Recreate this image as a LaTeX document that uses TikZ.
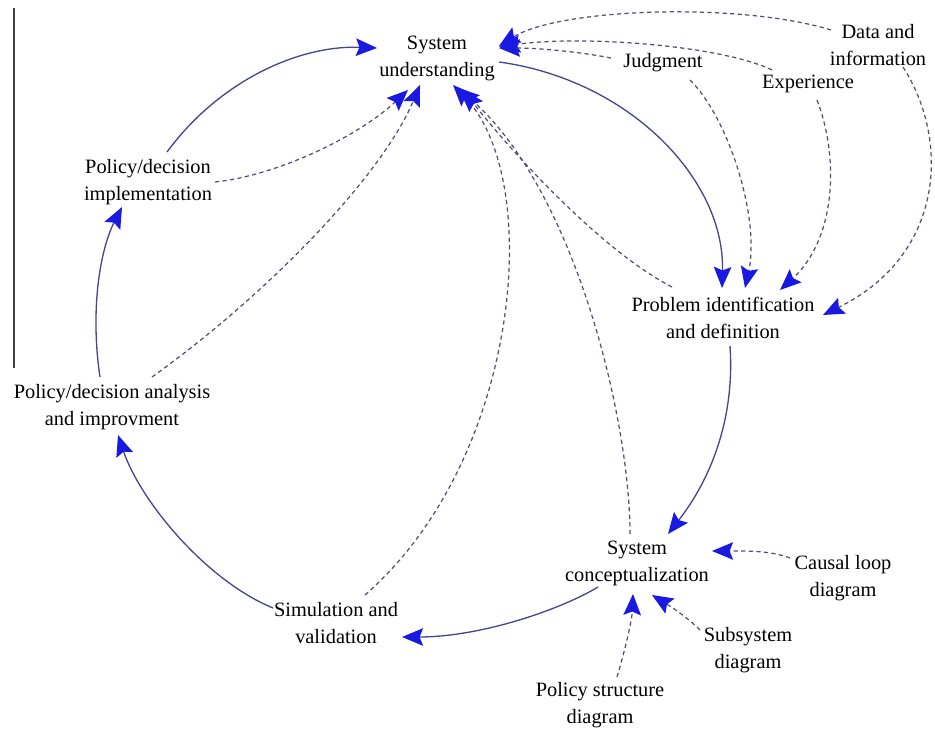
\documentclass[tikz,border=0pt]{standalone}
\usepackage{fontspec}
\setmainfont{Liberation Serif}
\usetikzlibrary{arrows.meta}
\definecolor{arrowblue}{RGB}{25,25,225}
\definecolor{linkcol}{RGB}{70,70,140}
\definecolor{infcol}{RGB}{80,80,115}
\newcommand{\lblfont}{\fontsize{11.6}{15.4}\selectfont}
\tikzset{
  lbl/.style={align=center,font=\lblfont,inner sep=0pt},
  mainlink/.style={draw=linkcol,line width=0.75pt,-{Stealth[length=12pt,width=10pt,inset=2pt,color=arrowblue]}},
  inflink/.style={draw=infcol,line width=0.7pt,dash pattern=on 2.4pt off 1.9pt,-{Stealth[length=12pt,width=10pt,inset=2pt,color=arrowblue]}}
}

\begin{document}
\begin{tikzpicture}[x=0.02cm,y=-0.02cm]
\useasboundingbox (0,0) rectangle (935,732);
\draw[line width=0.8pt,black!75] (14,8)--(14,368);
% nodes
\node[lbl] (su) at (437,58) {System\\understanding};
\node[lbl] (dinfo) at (878,45) {Data and\\information};
\node[lbl] (judg) at (663,63) {Judgment};
\node[lbl] (exper) at (808,84) {Experience};
\node[lbl] (polimp) at (148,182) {Policy/decision\\implementation};
\node[lbl] (probid) at (723,318) {Problem identification\\and definition};
\node[lbl] (polan) at (112,407) {Policy/decision analysis\\and improvment};
\node[lbl] (syscon) at (637,563) {System\\conceptualization};
\node[lbl] (causal) at (843,578) {Causal loop\\diagram};
\node[lbl] (simval) at (336,623) {Simulation and\\validation};
\node[lbl] (subsys) at (748,650) {Subsystem\\diagram};
\node[lbl] (polstr) at (600,705) {Policy structure\\diagram};
% main loop
\draw[mainlink] ([shift={(62,4)}]su.center) .. controls (630,80) and (725,180) .. ([shift={(-1,-30)}]probid.center);
\draw[mainlink] ([shift={(7,28)}]probid.center) .. controls (735,420) and (710,480) .. ([shift={(31,-29)}]syscon.center);
\draw[mainlink] ([shift={(-39,24)}]syscon.center) .. controls (560,610) and (480,637) .. ([shift={(66,14)}]simval.center);
\draw[mainlink] ([shift={(-63,-15)}]simval.center) .. controls (205,580) and (140,500) .. ([shift={(6,28)}]polan.center);
\draw[mainlink] ([shift={(-12,-30)}]polan.center) .. controls (90,310) and (100,250) .. ([shift={(-26,25)}]polimp.center);
\draw[mainlink] ([shift={(19,-30)}]polimp.center) .. controls (220,80) and (300,45) .. ([shift={(-60,-10)}]su.center);
% inputs to system understanding
\draw[inflink] ([shift={(-47,-15)}]dinfo.center) .. controls (740,2) and (560,8) .. ([shift={(62,-12)}]su.center);
\draw[inflink] ([shift={(-36,-14)}]exper.center) .. controls (720,45) and (580,35) .. ([shift={(62,-11)}]su.center);
\draw[inflink] ([shift={(-52,-5)}]judg.center) .. controls (580,52) and (540,48) .. ([shift={(62,-10)}]su.center);
\draw[inflink] ([shift={(67,0)}]polimp.center) .. controls (280,175) and (360,135) .. ([shift={(-29,32)}]su.center);
\draw[inflink] ([shift={(40,-30)}]polan.center) .. controls (260,300) and (380,180) .. ([shift={(-17,27)}]su.center);
\draw[inflink] ([shift={(29,-28)}]simval.center) .. controls (520,460) and (545,180) .. ([shift={(16,27)}]su.center);
\draw[inflink] ([shift={(-7,-29)}]syscon.center) .. controls (630,420) and (575,190) .. ([shift={(21,30)}]su.center);
\draw[inflink] ([shift={(-51,-31)}]probid.center) .. controls (600,250) and (510,150) .. ([shift={(26,32)}]su.center);
% inputs to problem identification
\draw[inflink] ([shift={(27,17)}]judg.center) .. controls (730,120) and (760,220) .. ([shift={(22,-30)}]probid.center);
\draw[inflink] ([shift={(9,16)}]exper.center) .. controls (840,160) and (835,240) .. ([shift={(57,-28)}]probid.center);
\draw[inflink] ([shift={(25,22)}]dinfo.center) .. controls (950,140) and (945,255) .. ([shift={(100,-3)}]probid.center);
% inputs to system conceptualization
\draw[inflink] ([shift={(-53,-20)}]causal.center) .. controls (770,550) and (740,551) .. ([shift={(75,-12)}]syscon.center);
\draw[inflink] ([shift={(-48,-20)}]subsys.center) .. controls (685,615) and (665,603) .. ([shift={(15,32)}]syscon.center);
\draw[inflink] ([shift={(17,-28)}]polstr.center) .. controls (625,650) and (632,620) .. ([shift={(-4,31)}]syscon.center);
\end{tikzpicture}
\end{document}
